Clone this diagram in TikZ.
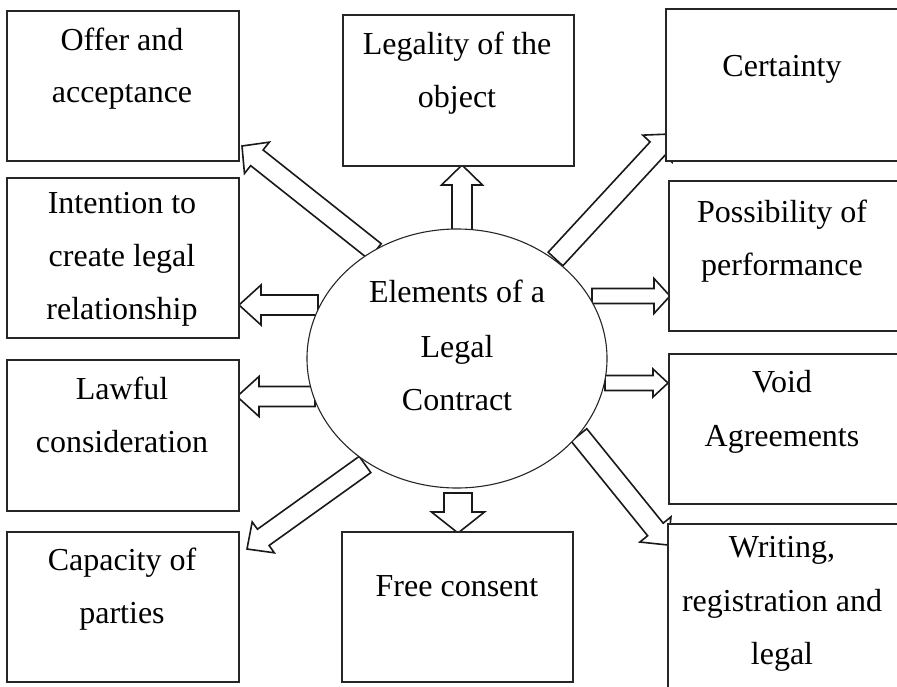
\documentclass[tikz,border=0pt]{standalone}
\usepackage{fontspec}
\setmainfont{Liberation Serif}
\usetikzlibrary{calc,shapes.geometric}
\tikzset{
  boxnode/.style={draw=black!85, line width=1.3pt, fill=white, rectangle, inner sep=0pt, outer sep=0pt},
  ellnode/.style={draw=black!85, line width=1.1pt, fill=white, ellipse, inner sep=0pt, outer sep=0pt},
  txt/.style={anchor=base, inner sep=0pt, font=\fontsize{32}{40}\selectfont, text=black},
  arrowline/.style={draw=black!90, line width=1.6pt, fill=white, line join=miter},
}
\newcommand\hollowarrow[5]{%
  \coordinate (hb) at ($(#2)!#5!(#1)$);
  \draw[arrowline] ($(#1)!#3!90:(#2)$) -- ($(hb)!#3!90:(#2)$) -- ($(hb)!#4!90:(#2)$) -- (#2)
    -- ($(hb)!#4!-90:(#2)$) -- ($(hb)!#3!-90:(#2)$) -- ($(#1)!#3!-90:(#2)$) -- cycle;
}
\begin{document}
\begin{tikzpicture}[x=1pt,y=-1pt]
\useasboundingbox (0,0) rectangle (897,686);
\clip (0,0) rectangle (897,686);
% arrow end points
\coordinate (aOt) at (375,251.5);   \coordinate (aOh) at (242,146);
\coordinate (aLt) at (462,230);     \coordinate (aLh) at (462,165);
\coordinate (aCt) at (555.5,259);   \coordinate (aCh) at (671,134);
\coordinate (aIt) at (318,305);     \coordinate (aIh) at (239,305);
\coordinate (aWt) at (315,396.5);   \coordinate (aWh) at (237,396.5);
\coordinate (aPt) at (592,296);     \coordinate (aPh) at (670,296);
\coordinate (aVt) at (605,383);     \coordinate (aVh) at (668,383);
\coordinate (aFt) at (458,493);     \coordinate (aFh) at (458,533);
\coordinate (aKt) at (365,464.5);   \coordinate (aKh) at (247,549);
\coordinate (aRt) at (579,435);     \coordinate (aRh) at (668,545);
% arrows
\hollowarrow{aOt}{aOh}{10pt}{20pt}{19pt}
\hollowarrow{aLt}{aLh}{10pt}{20.5pt}{20pt}
\hollowarrow{aCt}{aCh}{10pt}{20pt}{20pt}
\hollowarrow{aIt}{aIh}{10pt}{20pt}{22pt}
\hollowarrow{aWt}{aWh}{10pt}{20pt}{22pt}
\hollowarrow{aPt}{aPh}{7.5pt}{17.5pt}{16pt}
\hollowarrow{aVt}{aVh}{7.5pt}{14pt}{15pt}
\hollowarrow{aFt}{aFh}{14pt}{26.5pt}{21pt}
\hollowarrow{aKt}{aKh}{10pt}{19pt}{20pt}
\hollowarrow{aRt}{aRh}{10pt}{20pt}{20pt}
% centre ellipse
\node[ellnode, minimum width=300pt, minimum height=259pt] (core) at (457,358.5) {};
% boxes
\node[boxnode, minimum width=232pt, minimum height=150pt] (offer) at (123,86) {};
\node[boxnode, minimum width=232pt, minimum height=160pt] (intent) at (123,258) {};
\node[boxnode, minimum width=232pt, minimum height=151pt] (lawful) at (123,435.5) {};
\node[boxnode, minimum width=232pt, minimum height=150pt] (capac) at (123,607) {};
\node[boxnode, minimum width=231pt, minimum height=151pt] (legal) at (458.5,90.5) {};
\node[boxnode, minimum width=231pt, minimum height=150pt] (freec) at (457.5,607) {};
\node[boxnode, minimum width=234pt, minimum height=152pt] (certa) at (783,85) {};
\node[boxnode, minimum width=231pt, minimum height=150pt] (possi) at (784.5,256) {};
\node[boxnode, minimum width=231pt, minimum height=150pt] (voida) at (784.5,429) {};
\node[boxnode, minimum width=232pt, minimum height=196pt] (writi) at (784,622) {};
% texts
\node[txt] (t1) at (122,50) {Offer and};
\node[txt] (t2) at (122,102) {acceptance};
\node[txt] (t3) at (457,54) {Legality of the};
\node[txt] (t4) at (457,107) {object};
\node[txt] (t5) at (782,76) {Certainty};
\node[txt] (t6) at (122,213) {Intention to};
\node[txt] (t7) at (122,266) {create legal};
\node[txt] (t8) at (122,319) {relationship};
\node[txt] (t9) at (782,222) {Possibility of};
\node[txt] (t10) at (782,275) {performance};
\node[txt] (t11) at (122,399) {Lawful};
\node[txt] (t12) at (122,452) {consideration};
\node[txt] (t13) at (782,392) {Void};
\node[txt] (t14) at (782,446) {Agreements};
\node[txt] (t15) at (122,570) {Capacity of};
\node[txt] (t16) at (122,623) {parties};
\node[txt] (t17) at (457,596) {Free consent};
\node[txt] (t18) at (782,557) {Writing,};
\node[txt] (t19) at (782,611) {registration and};
\node[txt] (t20) at (782,664) {legal};
\node[txt] (t21) at (457,302) {Elements of a};
\node[txt] (t22) at (457,357) {Legal};
\node[txt] (t23) at (457,410) {Contract};
\end{tikzpicture}
\end{document}
